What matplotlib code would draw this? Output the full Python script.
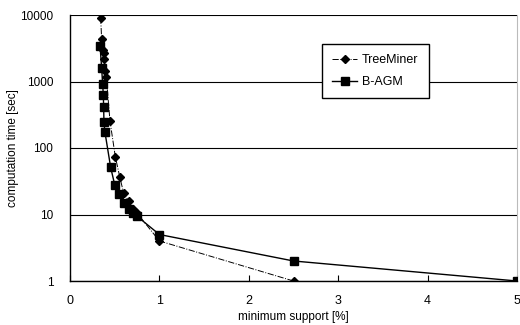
import matplotlib
matplotlib.use("Agg")
import matplotlib.pyplot as plt

# minimum support [%] and computation time [sec]
tm_support = [0.343, 0.354, 0.365, 0.376, 0.384, 0.395, 0.406, 0.447, 0.507,
              0.556, 0.60, 0.656, 0.70, 0.75, 1.0, 2.5]
tm_time = [9100, 4300, 2980, 2650, 2150, 1440, 1180, 255, 74,
           37, 21, 16, 12, 10.5, 4.0, 1.0]

bagm_support = [0.336, 0.354, 0.365, 0.373, 0.376, 0.38, 0.39, 0.455, 0.50,
                0.55, 0.60, 0.66, 0.70, 0.746, 1.0, 2.5, 5.0]
bagm_time = [3450, 1600, 910, 625, 420, 245, 176, 51, 28,
             20, 15, 12, 10.7, 9.5, 5.0, 2.0, 1.0]

x_ticks = [0, 1, 2, 3, 4, 5]
y_ticks = [1, 10, 100, 1000, 10000]

plt.rcParams["font.family"] = ["Liberation Sans", "DejaVu Sans"]

fig = plt.figure(figsize=(5.2, 3.25), dpi=100)
ax = fig.add_axes([70 / 520, 1 - 281 / 325, 447 / 520, 266 / 325])

ax.plot(tm_support, tm_time, color="black", linestyle="-.", linewidth=0.7,
        marker="D", markersize=3.8, label="TreeMiner", zorder=3)
ax.plot(bagm_support, bagm_time, color="black", linestyle="-", linewidth=1.0,
        marker="s", markersize=6, label="B-AGM", zorder=3)

ax.set_yscale("log")
ax.set_xlim(0, 5)
ax.set_ylim(1, 10000)
ax.set_xticks(x_ticks)
ax.set_xticklabels([str(t) for t in x_ticks])
ax.set_yticks(y_ticks)
ax.set_yticklabels([str(t) for t in y_ticks])
ax.minorticks_off()
ax.yaxis.grid(True, color="black", linewidth=0.8)
ax.set_axisbelow(True)

ax.tick_params(axis="x", direction="in", length=4, labelsize=9, pad=10)
ax.tick_params(axis="y", length=0, labelsize=8.5, pad=12)

ax.spines["top"].set_visible(False)
ax.spines["right"].set_color("#bbbbbb")
ax.spines["left"].set_linewidth(1.0)
ax.spines["bottom"].set_linewidth(1.0)

ax.set_xlabel("minimum support [%]", fontsize=8.5)
ax.set_ylabel("computation time [sec]", fontsize=8.5)
ax.xaxis.set_label_coords(0.5, -0.112)
ax.yaxis.set_label_coords(-0.114, 0.5)

leg = ax.legend(loc="upper left", bbox_to_anchor=(252 / 447, 1 - 29 / 266),
                borderaxespad=0, fontsize=9, frameon=True, fancybox=False,
                edgecolor="black", framealpha=1, handlelength=2.0,
                borderpad=0.8, labelspacing=0.8, handletextpad=0.4)
leg.get_frame().set_linewidth(1.0)

fig.savefig("out.png", dpi=100)
